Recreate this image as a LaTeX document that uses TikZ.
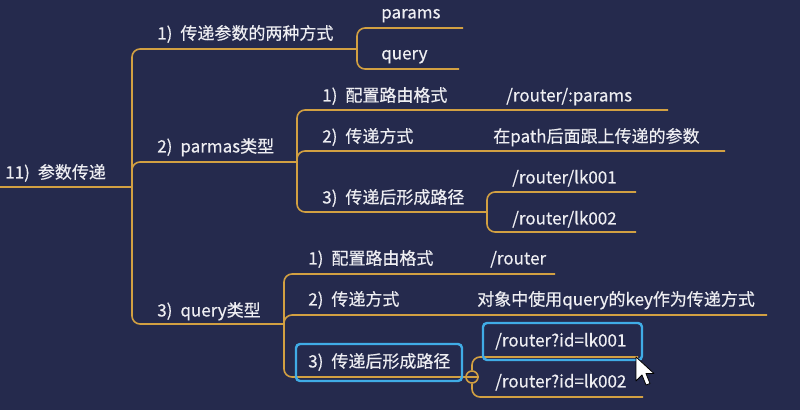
\documentclass[tikz,border=0pt]{standalone}
\usepackage{fontspec}
\setmainfont{Noto Sans CJK SC}[FakeBold=0.4]
\definecolor{bg}{RGB}{37,42,77}
\definecolor{gold}{RGB}{210,160,66}
\definecolor{selblue}{RGB}{64,172,230}
\definecolor{txt}{RGB}{238,238,242}
\newcommand\nmb[1]{#1)\hspace{6pt}}
\begin{document}
\begin{tikzpicture}[x=0.75pt,y=-0.75pt,
  lbl/.style={anchor=west,inner sep=0pt,text=txt,text height=11.2pt,text depth=1.5pt,
    font=\fontsize{12.75pt}{15pt}\selectfont},
  conn/.style={draw=gold,line width=1.2pt,rounded corners=6pt},
  selbox/.style={draw=selblue,line width=1.8pt,rounded corners=3pt},
  toggle/.style={circle,draw=gold,fill=bg,line width=1.2pt,minimum size=9pt,inner sep=0pt}]
\useasboundingbox (0,0) rectangle (800,410);
\fill[bg] (0,0) rectangle (800,410);

% coordinates of topic lines
\coordinate (root-s) at (0,187);
\coordinate (root-e) at (132,187);
\coordinate (b1e) at (357,49);
\coordinate (p1e) at (463,28);
\coordinate (p2e) at (459,69);
\coordinate (b2e) at (297,162);
\coordinate (c1e) at (668,110);
\coordinate (c2e) at (725,151);
\coordinate (c3e) at (487,212);
\coordinate (d1e) at (636,192);
\coordinate (d2e) at (636,232);
\coordinate (b3e) at (284,324);
\coordinate (e1e) at (555,274);
\coordinate (e2e) at (767,315);
\coordinate (f1e) at (638,357);
\coordinate (f2e) at (643,397);

% texts
\node[lbl] (root) at (5,172) {\nmb{11}参数传递};
\node[lbl] (b1) at (157,33) {\nmb{1}传递参数的两种方式};
\node[lbl] (p1) at (381,12) {params};
\node[lbl] (p2) at (381,53) {query};
\node[lbl] (b2) at (157,146) {\nmb{2}parmas类型};
\node[lbl] (c1) at (322,95) {\nmb{1}配置路由格式};
\node[lbl] (c1v) at (506,95) {/router/:params};
\node[lbl] (c2) at (322,136) {\nmb{2}传递方式};
\node[lbl] (c2v) at (493,136) {在path后面跟上传递的参数};
\node[lbl] (c3) at (322,197) {\nmb{3}传递后形成路径};
\node[lbl] (d1) at (512,177) {/router/lk001};
\node[lbl] (d2) at (512,218) {/router/lk002};
\node[lbl] (b3) at (157,310) {\nmb{3}query类型};
\node[lbl] (e1) at (308,258) {\nmb{1}配置路由格式};
\node[lbl] (e1v) at (490,258) {/router};
\node[lbl] (e2) at (308,299) {\nmb{2}传递方式};
\node[lbl] (e2v) at (477,299) {对象中使用query的key作为传递方式};
\node[lbl] (e3) at (308,361) {\nmb{3}传递后形成路径};
\node[lbl] (f1) at (495,340) {/router?id=lk001};
\node[lbl] (f2) at (495,381) {/router?id=lk002};

% connectors
\draw[conn] (root-s) -- (root-e);
\draw[conn] (root-e) |- (b1e);
\draw[conn] (root-e) |- (b2e);
\draw[conn] (root-e) |- (b3e);
\draw[conn] (b1e) |- (p1e);
\draw[conn] (b1e) |- (p2e);
\draw[conn] (b2e) |- (c1e);
\draw[conn] (b2e) |- (c2e);
\draw[conn] (b2e) |- (c3e);
\draw[conn] (c3e) |- (d1e);
\draw[conn] (c3e) |- (d2e);
\draw[conn] (b3e) |- (e1e);
\draw[conn] (b3e) |- (e2e);
\node[toggle] (tog) at (472,377) {};
\draw[conn] (b3e) |- (tog.west);
\draw[conn] (tog.north) |- (f1e);
\draw[conn] (tog.south) |- (f2e);
\draw[gold,line width=1.2pt] (tog.west) -- (tog.east);

% selection boxes
\draw[selbox] (296,344) rectangle (462,381);
\draw[selbox] (483,323) rectangle (642,360);

% mouse cursor
\filldraw[fill=white,draw=black,line width=0.6pt,line join=round]
  (636,357) -- ++(0,24) -- ++(6,-6) -- ++(4,10) -- ++(4,-1.5) -- ++(-4,-10) -- ++(8,0) -- cycle;
\end{tikzpicture}
\end{document}
